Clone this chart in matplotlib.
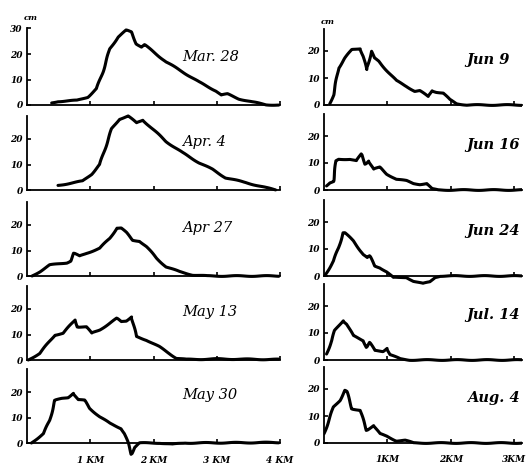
import numpy as np
import matplotlib.pyplot as plt

#%%
# snow depth profiles (cm) along the line, distance in km
dates_left = ["Mar. 28", "Apr. 4", "Apr 27", "May 13", "May 30"]
dates_right = ["Jun 9", "Jun 16", "Jun 24", "Jul. 14", "Aug. 4"]

mar28_x = [0.39, 0.49, 0.79, 0.96, 1.10, 1.20, 1.31, 1.44, 1.57, 1.65, 1.73, 1.81, 1.86, 1.94,
           2.20, 2.46, 2.72, 2.99, 3.07, 3.17, 3.35, 3.56, 3.78, 3.98]
mar28_y = [0.8, 1.4, 1.8, 3.1, 6.4, 13.0, 22.0, 26.7, 29.3, 28.6, 24.0, 22.7, 23.6, 22.0,
           16.9, 13.0, 9.0, 5.5, 3.9, 4.3, 2.4, 1.2, 0.1, 0.0]

apr4_x = [0.49, 0.88, 1.02, 1.15, 1.34, 1.46, 1.60, 1.73, 1.83, 1.94, 2.20, 2.46, 2.72, 2.93,
          3.14, 3.46, 3.78, 3.93]
apr4_y = [1.8, 3.5, 6.2, 10.0, 24.0, 27.8, 29.0, 26.3, 27.4, 25.0, 19.0, 14.6, 10.7, 8.1,
          4.8, 2.9, 0.9, 0.0]

apr27_x = [0.08, 0.20, 0.36, 0.63, 0.69, 0.74, 0.83, 0.94, 1.15, 1.31, 1.42, 1.49, 1.57, 1.67,
           1.78, 1.89, 2.05, 2.20, 2.41, 2.62, 2.85, 3.98]
apr27_y = [0.0, 1.7, 4.3, 5.2, 5.9, 8.9, 7.8, 8.9, 10.9, 14.8, 18.8, 18.8, 17.0, 14.0,
           13.7, 11.5, 6.9, 3.6, 1.7, 0.4, 0.0, 0.0]

may13_x = [0.02, 0.20, 0.44, 0.57, 0.76, 0.80, 0.94, 1.02, 1.15, 1.42, 1.49, 1.57, 1.65, 1.73,
           1.89, 2.09, 2.25, 2.36, 2.52, 3.00, 3.40, 3.98]
may13_y = [0.0, 2.6, 9.8, 10.5, 15.7, 13.0, 13.0, 10.5, 11.8, 16.3, 15.0, 15.3, 17.0, 9.2,
           7.8, 5.2, 2.6, 0.7, 0.2, 0.4, 0.3, 0.2]

may30_x = [0.07, 0.26, 0.36, 0.44, 0.55, 0.65, 0.73, 0.81, 0.91, 0.99, 1.15, 1.31, 1.49, 1.54,
           1.60, 1.65, 1.70, 1.78, 2.10, 2.30, 2.50, 3.98]
may30_y = [0.0, 3.7, 8.9, 16.7, 17.4, 17.8, 19.6, 17.0, 16.7, 13.6, 10.3, 7.7, 5.7, 3.7,
           -0.2, -4.4, -1.7, 0.0, 0.0, -0.5, 0.0, 0.2]

jun9_x = [0.09, 0.15, 0.23, 0.33, 0.44, 0.57, 0.62, 0.67, 0.72, 0.75, 0.79, 0.86, 0.93, 1.14,
          1.30, 1.43, 1.51, 1.64, 1.70, 1.77, 1.88, 1.98, 2.09, 2.25, 3.12]
jun9_y = [0.4, 3.8, 13.7, 17.4, 20.5, 20.9, 18.0, 13.1, 17.4, 19.9, 17.4, 16.2, 14.3, 9.0,
          6.9, 5.1, 5.3, 3.1, 5.3, 4.8, 4.4, 2.0, 0.5, 0.0, 0.0]

jun16_x = [0.04, 0.09, 0.15, 0.19, 0.23, 0.41, 0.51, 0.59, 0.65, 0.70, 0.78, 0.88, 0.99, 1.14,
           1.30, 1.41, 1.51, 1.62, 1.70, 1.80, 3.12]
jun16_y = [1.5, 2.7, 3.3, 10.8, 11.4, 11.4, 10.8, 13.3, 9.6, 10.8, 7.7, 8.4, 5.9, 4.0,
           3.4, 2.4, 2.1, 2.4, 0.4, 0.0, 0.0]

jun24_x = [0.02, 0.15, 0.23, 0.30, 0.33, 0.46, 0.62, 0.68, 0.72, 0.80, 0.88, 0.99, 1.09, 1.20,
           1.30, 1.41, 1.56, 1.67, 1.75, 1.83, 3.12]
jun24_y = [0.4, 5.6, 10.5, 16.0, 16.0, 13.0, 8.0, 6.8, 7.4, 3.7, 3.1, 1.5, -0.6, -0.6,
           -0.5, -1.9, -2.8, -2.2, -0.5, 0.0, 0.0]

jul14_x = [0.04, 0.12, 0.17, 0.30, 0.36, 0.46, 0.62, 0.67, 0.72, 0.80, 0.93, 0.99, 1.04, 1.20,
           1.35, 3.12]
jul14_y = [2.2, 7.2, 10.9, 14.6, 13.3, 9.0, 7.2, 4.7, 6.5, 3.5, 3.2, 4.4, 2.0, 0.4,
           0.0, 0.0]

aug4_x = [0.00, 0.04, 0.15, 0.25, 0.33, 0.36, 0.44, 0.57, 0.67, 0.78, 0.88, 0.99, 1.14, 1.28,
          1.41, 3.12]
aug4_y = [3.4, 6.0, 13.3, 15.8, 19.5, 19.0, 12.7, 12.1, 4.7, 6.5, 3.4, 2.5, 0.8, 1.0,
          0.0, 0.0]

left_x = [mar28_x, apr4_x, apr27_x, may13_x, may30_x]
left_y = [mar28_y, apr4_y, apr27_y, may13_y, may30_y]
right_x = [jun9_x, jun16_x, jun24_x, jul14_x, aug4_x]
right_y = [jun9_y, jun16_y, jun24_y, jul14_y, aug4_y]

left_ticks = [1, 2, 3, 4]
left_ticklabels = ["1 KM", "2 KM", "3 KM", "4 KM"]
right_ticks = [1, 2, 3]
right_ticklabels = ["1KM", "2KM", "3KM"]

#%%
W, H = 527, 468
fig = plt.figure(figsize=(W / 100, H / 100), dpi=100)

baselines = [105, 190, 276, 360, 443]
tfont = dict(family='DejaVu Serif', style='italic', weight='bold')


def make_panel(x0, x1, base, pxu, xmax, ytop, yticks, xticks, xlabels, bottom):
    lo, hi = -6, ytop + 1
    bot_px = base + (-lo) * pxu
    top_px = base - hi * pxu
    ax = fig.add_axes([x0 / W, 1 - bot_px / H, (x1 - x0) / W, (bot_px - top_px) / H])
    ax.set_facecolor('none')
    ax.set_xlim(0, xmax)
    ax.set_ylim(lo, hi)
    for s in ['top', 'right']:
        ax.spines[s].set_visible(False)
    ax.spines['bottom'].set_position(('data', 0))
    ax.spines['left'].set_bounds(0, ytop)
    for s in ['bottom', 'left']:
        ax.spines[s].set_linewidth(1.3)
    ax.set_yticks(yticks)
    ax.set_yticklabels([str(t) for t in yticks], fontsize=6.5, **tfont)
    ax.set_xticks(xticks)
    if bottom:
        ax.set_xticklabels(xlabels, fontsize=6.5, **tfont)
    else:
        ax.set_xticklabels([])
    ax.tick_params(axis='y', direction='in', length=3, width=1.2, pad=3)
    ax.tick_params(axis='x', direction='in', length=3, width=1.2, pad=9)
    return ax


for i in range(5):
    ytop = 30 if i == 0 else 29
    yt = [0, 10, 20, 30] if i == 0 else [0, 10, 20]
    ax = make_panel(27, 280, baselines[i], 2.55, 3.98, ytop, yt,
                    left_ticks, left_ticklabels, i == 4)
    ln, = ax.plot(left_x[i], left_y[i], color='black', lw=2.2, solid_capstyle='round')
    ln.set_sketch_params(0.4, 30, 1)  # slight hand-drawn wobble
    ax.text(2.45, 19, dates_left[i], fontsize=10.5, family='DejaVu Serif',
            style='italic', va='center', ha='left')

for i in range(5):
    ax = make_panel(324, 522, baselines[i], 2.7, 3.12, 28, [0, 10, 20],
                    right_ticks, right_ticklabels, i == 4)
    ln, = ax.plot(right_x[i], right_y[i], color='black', lw=2.2, solid_capstyle='round')
    ln.set_sketch_params(0.4, 30, 1)
    ax.text(2.25, 16.5, dates_right[i], fontsize=10.5, family='DejaVu Serif',
            style='italic', weight='bold', va='center', ha='left')

fig.text(31 / W, 1 - 18 / H, "cm", fontsize=6, ha='center', va='center', **tfont)
fig.text(328 / W, 1 - 22 / H, "cm", fontsize=6, ha='center', va='center', **tfont)

fig.savefig("out.png", dpi=100)
